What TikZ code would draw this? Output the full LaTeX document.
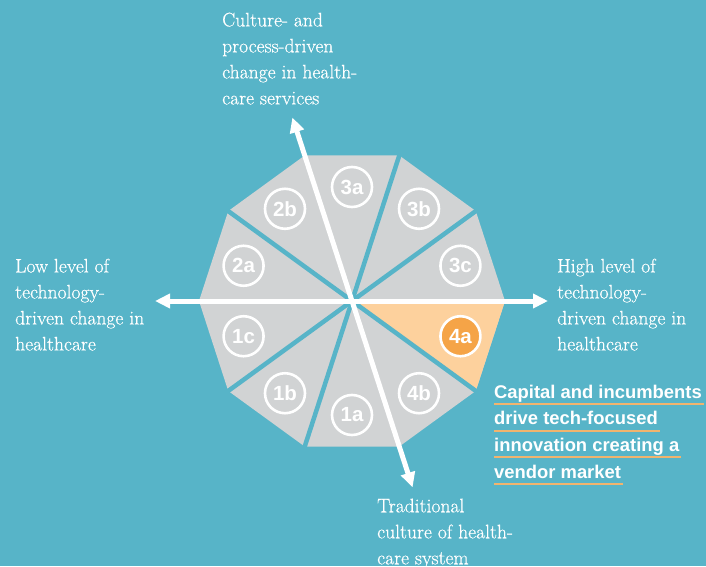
\documentclass[tikz,border=0pt]{standalone}
\usepackage{fontspec}
\newfontfamily\lsans{Liberation Sans}
\newfontfamily\serifw[FakeBold=0.5]{Latin Modern Roman}
\usetikzlibrary{arrows.meta}
\definecolor{bg}{HTML}{57B4C8}
\definecolor{seg}{HTML}{D1D3D4}
\definecolor{segor}{HTML}{FDD19D}
\definecolor{orangec}{HTML}{F5A447}
\definecolor{ulinec}{HTML}{F1B46E}
\tikzset{
  gapline/.style={draw=bg, line width=4.5pt},
  axisline/.style={draw=white, line width=5pt, {Triangle[length=15pt,width=14pt]}-{Triangle[length=15pt,width=14pt]}},
  lbl/.style={circle, draw=white, line width=2.6pt, minimum size=40pt, inner sep=0pt, text=white, font=\lsans\bfseries\fontsize{20.5}{20.5}\selectfont},
  axtext/.style={anchor=north west, inner sep=0pt, align=left, text=white, font=\serifw\fontsize{19.6}{26}\selectfont},
  captext/.style={anchor=base west, inner sep=0pt, text=white, font=\lsans\bfseries\fontsize{18.4}{18.4}\selectfont},
  uline/.style={draw=ulinec, line width=2pt}
}
\begin{document}
\begin{tikzpicture}[x=1pt,y=1pt]
\useasboundingbox (0,0) rectangle (706,566);
\fill[bg] (0,0) rectangle (706,566);
\begin{scope}[shift={(352,265)}]
  \foreach \a in {0,36,...,324} {
    \fill[seg] (0,0) -- (\a:153) -- (\a+36:153) -- cycle;
  }
  \fill[segor] (0,0) -- (-36:153) -- (0:153) -- cycle;
  \foreach \a in {36,72,144,216,252,324} {
    \draw[gapline] (0,0) -- (\a:165);
  }
  \coordinate (axL) at (180:197);
  \coordinate (axR) at (0:196);
  \coordinate (axT) at (108:193);
  \coordinate (axB) at (288:196);
  \draw[axisline] (axL) -- (axR);
  \draw[axisline] (axT) -- (axB);
  \node[lbl] (s3a) at (90:114) {3a};
  \node[lbl] (s3b) at (54:114) {3b};
  \node[lbl] (s3c) at (18:114) {3c};
  \node[lbl, fill=orangec] (s4a) at (-18:114) {4a};
  \node[lbl] (s4b) at (-54:114) {4b};
  \node[lbl] (s1a) at (-90:114) {1a};
  \node[lbl] (s1b) at (-126:114) {1b};
  \node[lbl] (s1c) at (-162:114) {1c};
  \node[lbl] (s2a) at (162:114) {2a};
  \node[lbl] (s2b) at (126:114) {2b};
\end{scope}
\node[axtext] (ttop) at (222,553.5) {Culture- and\\process-driven\\change in health-\\care services};
\node[axtext] (tleft) at (15,307.5) {Low level of\\technology-\\driven change in\\healthcare};
\node[axtext] (tright) at (557,307.5) {High level of\\technology-\\driven change in\\healthcare};
\node[axtext] (tbot) at (377,67.5) {Traditional\\culture of health-\\care system};
\node[captext] (c1) at (494,168) {Capital and incumbents};
\node[captext] (c2) at (494,141.3) {drive tech-focused};
\node[captext] (c3) at (494,114.6) {innovation creating a};
\node[captext] (c4) at (494,88) {vendor market};
\foreach \n in {c1,c2,c3,c4} {
  \draw[uline] ([yshift=-6pt]\n.base west) -- ([yshift=-6pt,xshift=2pt]\n.base east);
}
\end{tikzpicture}
\end{document}
